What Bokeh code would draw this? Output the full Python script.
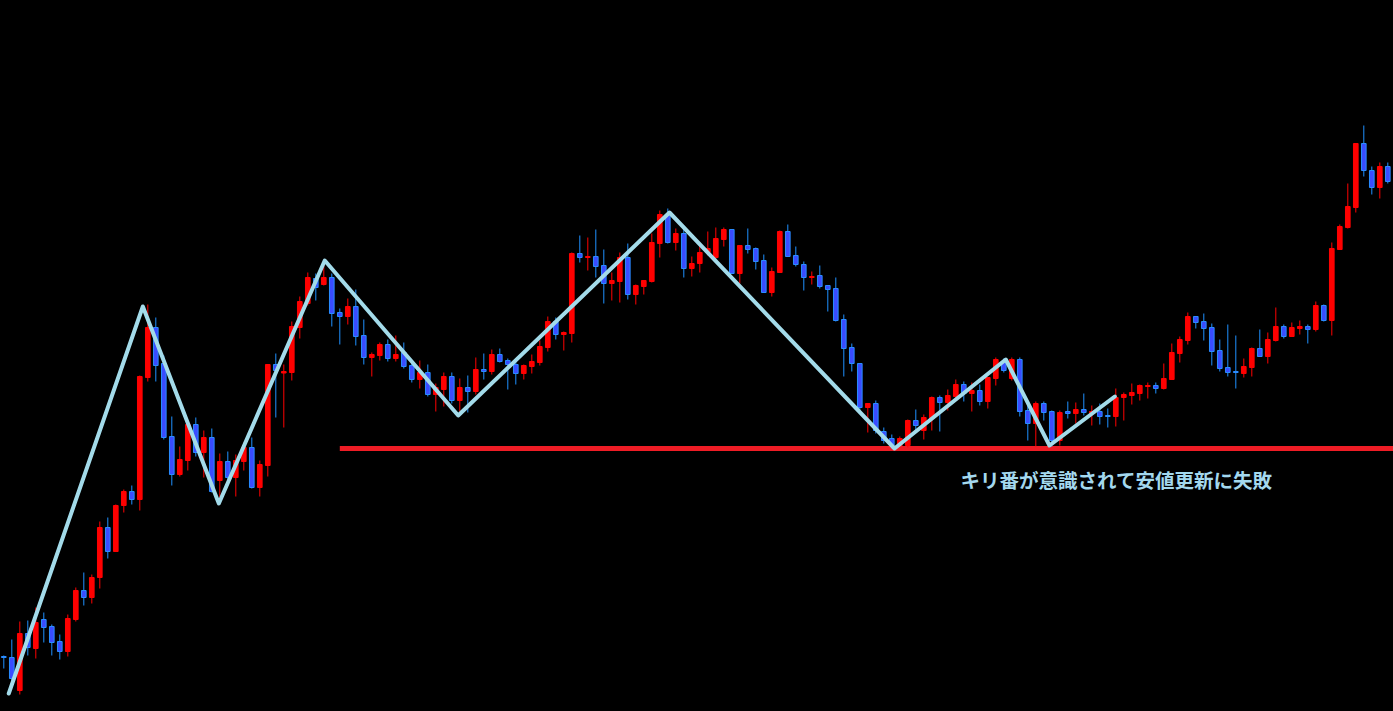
from bokeh.plotting import figure
from bokeh.models import ColumnDataSource, Range1d
from bokeh.core.properties import value
from bokeh.embed import file_html
from bokeh.resources import INLINE

try:
    from bokeh.models import GlobalInlineStyleSheet
except Exception:
    GlobalInlineStyleSheet = None

# ---------------- data (price per bar) ----------------
opens = [107.92, 107.91, 107.58, 108.15, 108.00, 108.29, 108.22, 108.07, 107.97, 108.29,
         108.58, 108.51, 108.71, 109.21, 108.97, 109.43, 109.57, 109.49, 110.71, 111.21,
         110.85, 110.12, 109.74, 109.88, 110.24, 109.96, 110.11, 109.68, 109.87, 109.71,
         109.87, 110.01, 109.61, 109.83, 110.84, 110.755, 110.76, 111.21, 111.45, 111.70,
         111.64, 111.71, 111.36, 111.32, 111.42, 111.13, 110.91, 110.93, 111.04, 110.90,
         110.96, 110.83, 110.69, 110.76, 110.54, 110.59, 110.72, 110.48, 110.61, 110.57,
         110.79, 110.77, 110.94, 110.88, 110.84, 110.75, 110.82, 110.86, 111.01, 111.27,
         111.14, 111.15, 111.95, 111.91, 111.92, 111.83, 111.65, 111.67, 111.91, 111.54,
         111.62, 111.67, 112.05, 112.34, 112.06, 112.15, 111.80, 111.85, 111.96, 111.91,
         112.09, 112.19, 111.75, 112.03, 112.00, 111.88, 111.56, 111.76, 112.17, 111.93,
         111.84, 111.71, 111.73, 111.63, 111.60, 111.29, 111.01, 110.85, 110.41, 110.45,
         110.17, 110.10, 110.03, 110.03, 110.28, 110.18, 110.30, 110.51, 110.46, 110.52,
         110.64, 110.55, 110.58, 110.47, 110.70, 110.86, 110.70, 110.89, 110.38, 110.25,
         110.45, 110.37, 110.08, 110.37, 110.35, 110.39, 110.35, 110.37, 110.33, 110.32,
         110.51, 110.53, 110.55, 110.62, 110.63, 110.60, 110.69, 110.95, 111.08, 111.32,
         111.27, 111.21, 110.98, 110.81, 110.77, 110.75, 110.81, 111.00, 110.92, 111.08,
         111.22, 111.12, 111.20, 111.22, 111.19, 111.43, 111.28, 111.99, 112.21, 112.41,
         113.05, 112.78, 112.61, 112.82]

highs = [107.93, 108.09, 108.27, 108.28, 108.41, 108.36, 108.24, 108.14, 108.34, 108.61,
         108.76, 108.74, 109.27, 109.31, 109.44, 109.59, 109.63, 110.73, 111.44, 111.31,
         110.93, 110.32, 110.02, 110.28, 110.31, 110.18, 110.20, 109.95, 109.97, 109.94,
         110.06, 110.11, 109.88, 110.84, 110.95, 110.84, 111.27, 111.52, 111.76, 111.75,
         111.87, 111.75, 111.40, 111.50, 111.59, 111.29, 110.96, 111.06, 111.09, 111.13,
         111.06, 110.88, 110.88, 110.84, 110.65, 110.76, 110.76, 110.70, 110.73, 110.91,
         110.95, 110.99, 111.00, 110.90, 110.87, 110.84, 110.94, 111.08, 111.32, 111.31,
         111.17, 111.96, 112.13, 112.11, 112.19, 111.99, 111.76, 111.96, 112.05, 111.64,
         111.68, 112.15, 112.38, 112.40, 112.20, 112.23, 111.92, 112.03, 112.17, 112.21,
         112.21, 112.19, 112.03, 112.20, 112.01, 111.94, 111.81, 112.18, 112.24, 112.02,
         111.87, 111.77, 111.83, 111.63, 111.71, 111.34, 111.05, 110.85, 110.45, 110.48,
         110.21, 110.14, 110.12, 110.29, 110.39, 110.34, 110.52, 110.53, 110.59, 110.69,
         110.67, 110.66, 110.64, 110.71, 110.91, 110.90, 110.91, 110.91, 110.43, 110.47,
         110.47, 110.38, 110.38, 110.47, 110.46, 110.55, 110.43, 110.45, 110.40, 110.60,
         110.56, 110.65, 110.64, 110.66, 110.66, 110.85, 111.05, 111.12, 111.36, 111.32,
         111.35, 111.25, 111.09, 111.24, 111.13, 110.90, 111.01, 111.19, 111.16, 111.41,
         111.24, 111.26, 111.28, 111.24, 111.47, 111.44, 112.06, 112.24, 112.65, 113.05,
         113.23, 112.82, 112.86, 112.86]

lows = [107.80, 107.64, 107.54, 107.93, 107.90, 108.06, 107.93, 107.89, 107.92, 108.27,
        108.43, 108.45, 108.60, 108.90, 108.97, 109.36, 109.44, 109.38, 110.67, 110.67,
        110.09, 109.63, 109.72, 109.78, 109.92, 109.71, 109.56, 109.51, 109.68, 109.52,
        109.78, 109.60, 109.52, 109.72, 110.31, 110.21, 110.68, 111.10, 111.43, 111.48,
        111.63, 111.22, 111.04, 111.24, 111.03, 110.84, 110.72, 110.88, 110.87, 110.87,
        110.80, 110.66, 110.60, 110.52, 110.37, 110.42, 110.45, 110.37, 110.36, 110.54,
        110.69, 110.74, 110.86, 110.59, 110.64, 110.69, 110.75, 110.83, 110.97, 111.09,
        110.98, 111.06, 111.86, 111.78, 111.71, 111.45, 111.48, 111.46, 111.49, 111.44,
        111.54, 111.66, 111.91, 112.05, 111.98, 111.71, 111.72, 111.76, 111.93, 111.88,
        112.02, 111.75, 111.65, 111.95, 111.79, 111.56, 111.52, 111.76, 111.92, 111.82,
        111.58, 111.64, 111.60, 111.37, 111.27, 110.72, 110.77, 110.38, 110.16, 110.15,
        110.05, 110.00, 110.01, 110.01, 110.18, 110.09, 110.18, 110.17, 110.38, 110.48,
        110.47, 110.37, 110.43, 110.40, 110.63, 110.76, 110.68, 110.32, 110.08, 110.02,
        110.28, 110.02, 110.03, 110.30, 110.25, 110.33, 110.23, 110.24, 110.21, 110.22,
        110.28, 110.44, 110.48, 110.50, 110.55, 110.59, 110.69, 110.86, 111.04, 111.20,
        111.08, 110.83, 110.77, 110.72, 110.60, 110.71, 110.72, 110.92, 110.85, 111.07,
        111.10, 111.12, 111.14, 111.05, 111.17, 111.27, 111.13, 111.99, 112.20, 112.36,
        112.72, 112.54, 112.50, 112.65]

closes = [107.91, 107.70, 108.15, 108.01, 108.26, 108.21, 108.06, 107.97, 108.30, 108.58,
          108.51, 108.71, 109.21, 108.97, 109.43, 109.57, 109.49, 110.72, 111.21, 110.83,
          110.11, 109.74, 109.89, 110.24, 109.96, 110.11, 109.57, 109.87, 109.71, 109.88,
          110.01, 109.61, 109.84, 110.84, 110.78, 110.77, 111.22, 111.47, 111.71, 111.61,
          111.71, 111.35, 111.32, 111.42, 111.12, 110.91, 110.94, 111.04, 110.90, 110.94,
          110.82, 110.69, 110.76, 110.54, 110.61, 110.72, 110.48, 110.61, 110.57, 110.79,
          110.77, 110.94, 110.87, 110.84, 110.75, 110.83, 110.87, 111.02, 111.27, 111.14,
          111.16, 111.95, 111.91, 111.92, 111.82, 111.65, 111.68, 111.91, 111.54, 111.63,
          111.68, 112.06, 112.34, 112.06, 112.15, 111.80, 111.85, 111.96, 112.00, 112.10,
          112.19, 111.75, 112.03, 111.99, 111.87, 111.56, 111.77, 112.17, 111.92, 111.84,
          111.71, 111.72, 111.62, 111.59, 111.28, 111.00, 110.85, 110.41, 110.45, 110.18,
          110.08, 110.03, 110.10, 110.28, 110.23, 110.31, 110.51, 110.46, 110.53, 110.64,
          110.55, 110.58, 110.47, 110.71, 110.89, 110.78, 110.89, 110.37, 110.25, 110.45,
          110.36, 110.08, 110.36, 110.35, 110.39, 110.36, 110.37, 110.32, 110.32, 110.51,
          110.54, 110.56, 110.63, 110.63, 110.60, 110.70, 110.96, 111.09, 111.32, 111.26,
          111.20, 110.97, 110.80, 110.76, 110.76, 110.82, 111.00, 110.92, 111.09, 111.22,
          111.12, 111.21, 111.22, 111.19, 111.43, 111.28, 112.00, 112.22, 112.42, 113.05,
          112.78, 112.61, 112.82, 112.67]

# zigzag swing points (bar position, price)
zigzag_x = [0.62, 17.38, 26.88, 40.12, 56.8, 83.21, 111.34, 125.25, 130.71, 138.88]
zigzag_y = [107.55, 111.42, 109.45, 111.88, 110.33, 112.36, 110.00, 110.89, 110.03, 110.52]

# round-number support line
support_level = 110.00
support_from = 42.0
support_to = 176.0

annotation_text = "キリ番が意識されて安値更新に失敗"
annotation_x = 119.6
annotation_y = 109.69

# ---------------- build ----------------
idx = list(range(len(opens)))
up = [c > o for o, c in zip(opens, closes)]

def subset(flag):
    d = dict(x=[], o=[], h=[], l=[], c=[], top=[], bot=[])
    for i in idx:
        if up[i] == flag:
            d["x"].append(i)
            d["o"].append(opens[i]); d["h"].append(highs[i])
            d["l"].append(lows[i]); d["c"].append(closes[i])
            d["top"].append(max(opens[i], closes[i]))
            d["bot"].append(min(opens[i], closes[i]))
    return ColumnDataSource(d)

src_up = subset(True)
src_dn = subset(False)

p = figure(width=1393, height=711, output_backend="svg", toolbar_location=None,
           x_range=Range1d(-0.4125, 173.7125), y_range=Range1d(107.37, 114.48),
           background_fill_color="black", border_fill_color="black",
           min_border=0, outline_line_color=None)
p.axis.visible = False
p.xgrid.visible = False
p.ygrid.visible = False

if GlobalInlineStyleSheet is not None:
    p.stylesheets = [GlobalInlineStyleSheet(css="html, body { background: #000000; }")]

# support line
p.segment(x0=[support_from], y0=[support_level], x1=[support_to], y1=[support_level],
          line_color="#ee1c25", line_width=5)

# wicks
p.segment(x0="x", y0="h", x1="x", y1="l", source=src_up, line_color="#ff0000", line_width=1)
p.segment(x0="x", y0="h", x1="x", y1="l", source=src_dn, line_color="#1e90ff", line_width=1)

# bodies
p.vbar(x="x", width=0.58, top="top", bottom="bot", source=src_up,
       fill_color="#ff0000", line_color="#ff0000", line_width=1)
p.vbar(x="x", width=0.58, top="top", bottom="bot", source=src_dn,
       fill_color="#3a4cff", line_color="#2a8cff", line_width=1)

# zigzag
p.line(zigzag_x, zigzag_y, line_color="#a3dbea", line_width=4, line_join="round", line_cap="round")

# annotation
p.text(x=[annotation_x], y=[annotation_y], text=[annotation_text],
       text_font=value("Noto Sans CJK JP"), text_font_style="bold",
       text_font_size="19.5px", text_color="#a3d8ee",
       text_align="left", text_baseline="middle")

open("out.html", "w").write(file_html(p, INLINE))
